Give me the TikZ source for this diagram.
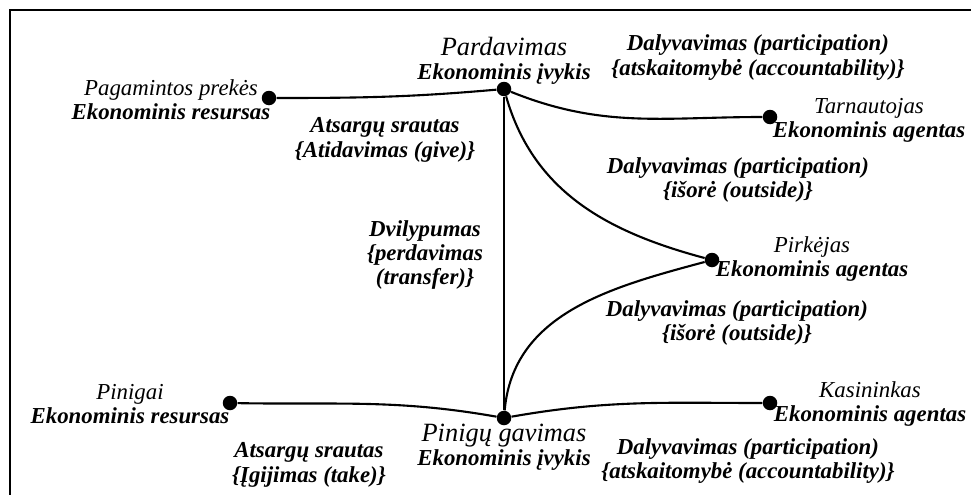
\documentclass[tikz,border=0pt]{standalone}
\usepackage{fontspec}
\setmainfont{Liberation Serif}

\begin{document}
\begin{tikzpicture}[
    dot/.style={circle,fill=black,inner sep=0pt,minimum size=0.29cm},
    txt/.style={align=center,inner sep=0pt,font=\fontsize{13}{13.8}\selectfont\itshape},
    bold/.style={txt,font=\fontsize{13}{13.8}\selectfont\bfseries\itshape},
    link/.style={line width=1.2pt}]
    \useasboundingbox (0,0) rectangle (19.42,-9.9);
    \draw[line width=1.2pt] (19.42,-0.2) -- (0.2,-0.2) -- (0.2,-9.9);
    % taskai
    \node[dot] (Pard) at (10.08,-1.78){};
    \node[dot] (Prek) at (5.38,-1.96){};
    \node[dot] (Tarn) at (15.4,-2.34){};
    \node[dot] (Pirk) at (14.24,-5.2){};
    \node[dot] (Pin) at (4.6,-8.06){};
    \node[dot] (PinG) at (10.08,-8.36){};
    \node[dot] (Kas) at (15.4,-8.06){};
    % pavadinimai
    \node[txt] (PardT) at (10.08,-1.22){{\fontsize{15}{16}\selectfont Pardavimas}\\{\bfseries Ekonominis įvykis}};
    \node[txt] (PrekT) at (3.42,-2.0){Pagamintos prekės\\{\bfseries Ekonominis resursas}};
    \node[txt] (TarnT) at (17.38,-2.4){Tarnautojas\\{\bfseries Ekonominis agentas}};
    \node[txt] (PirkT) at (16.24,-5.18){Pirkėjas\\{\bfseries Ekonominis agentas}};
    \node[txt] (PinT) at (2.6,-8.08){Pinigai\\{\bfseries Ekonominis resursas}};
    \node[txt] (KasT) at (17.4,-8.08){Kasininkas\\{\bfseries Ekonominis agentas}};
    \node[txt] (PinGT) at (10.08,-8.94){{\fontsize{15}{16}\selectfont Pinigų gavimas}\\{\bfseries Ekonominis įvykis}};
    % rysiu vardai
    \node[bold] (Ats1) at (7.7,-2.8){Atsargų srautas\\\{Atidavimas (give)\}};
    \node[bold] (Dal1) at (15.16,-1.15){Dalyvavimas (participation)\\\{atskaitomybė (accountability)\}};
    \node[bold] (Dal2) at (14.76,-3.6){Dalyvavimas (participation)\\\{išorė (outside)\}};
    \node[bold] (Dvil) at (8.5,-5.1){Dvilypumas\\\{perdavimas\\(transfer)\}};
    \node[bold] (Dal3) at (14.74,-6.46){Dalyvavimas (participation)\\\{išorė (outside)\}};
    \node[bold] (Ats2) at (6.18,-9.3){Atsargų srautas\\\{Įgijimas (take)\}};
    \node[bold] (Dal4) at (14.96,-9.22){Dalyvavimas (participation)\\\{atskaitomybė (accountability)\}};
    % rysiai
    \draw[link] (Prek) to[out=0,in=185] (Pard);
    \draw[link] (Pard) to[out=-22,in=180] (Tarn);
    \draw[link] (Pard) to[out=-74,in=165] (Pirk);
    \draw[link] (Pirk) to[out=195,in=85] (PinG);
    \draw[link] (Pard) -- (PinG);
    \draw[link] (Pin) to[out=-1,in=170] (PinG);
    \draw[link] (PinG) to[out=10,in=180] (Kas);
\end{tikzpicture}
\end{document}
